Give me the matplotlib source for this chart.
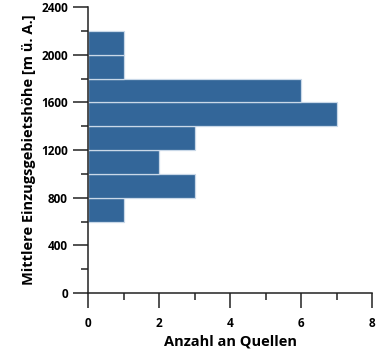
import numpy as np
import matplotlib
matplotlib.use('Agg')
import matplotlib.pyplot as plt
from matplotlib.ticker import MultipleLocator

plt.rcParams['font.family'] = ['Open Sans', 'DejaVu Sans']
plt.rcParams['font.weight'] = 'bold'

# bin edges (m ü. A.) and counts per bin
bin_start = [600, 800, 1000, 1200, 1400, 1600, 1800, 2000]
bin_width = 200
counts = [1, 3, 2, 3, 7, 6, 1, 1]

xticks = [0, 2, 4, 6, 8]
yticks = [0, 400, 800, 1200, 1600, 2000, 2400]

fig = plt.figure(figsize=(3.8, 3.57), dpi=100)
ax = fig.add_axes([0.2316, 0.1793, 0.979 - 0.2316, 0.980 - 0.1793])

ax.barh(bin_start, counts, height=bin_width, align='edge',
        color='#336699', edgecolor='#c9d8e8', linewidth=0.9)

ax.set_xlim(0, 8)
ax.set_ylim(0, 2400)
ax.set_xticks(xticks)
ax.set_yticks(yticks)
ax.xaxis.set_minor_locator(MultipleLocator(1))
ax.yaxis.set_minor_locator(MultipleLocator(200))

for side in ['top', 'right']:
    ax.spines[side].set_visible(False)
for side in ['left', 'bottom']:
    ax.spines[side].set_linewidth(1.1)
    ax.spines[side].set_color('#222222')

ax.tick_params(axis='both', which='major', length=10.5, width=1.1,
               color='#222222', labelsize=8.5, direction='out')
ax.tick_params(axis='both', which='minor', length=5, width=1.1,
               color='#222222', direction='out')
ax.tick_params(axis='x', which='major', pad=7)
ax.tick_params(axis='y', which='major', pad=4)

ax.set_xlabel('Anzahl an Quellen', fontsize=10.5, fontweight='bold', labelpad=3)
ax.set_ylabel('Mittlere Einzugsgebietshöhe [m ü. A.]', fontsize=10.5,
              fontweight='bold', labelpad=4)

fig.savefig('out.png', dpi=100)
